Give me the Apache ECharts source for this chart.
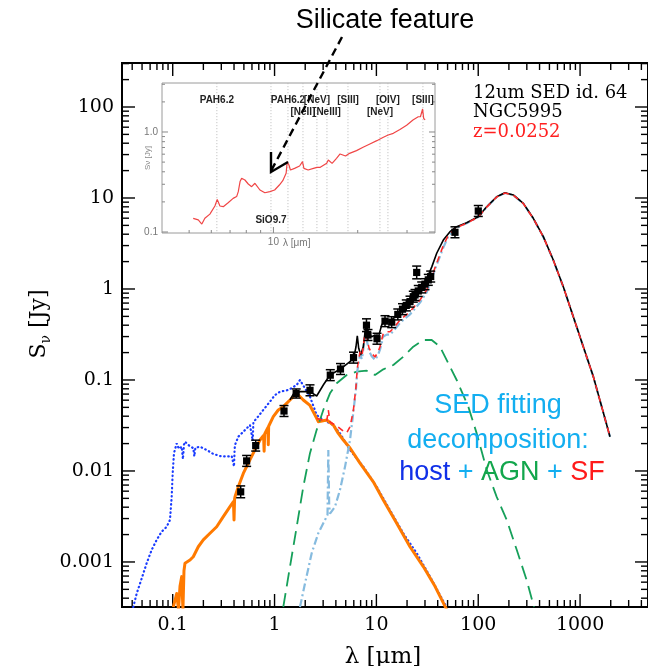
<!DOCTYPE html>
<html><head><meta charset="utf-8">
<script src="https://cdn.jsdelivr.net/npm/echarts@6.0.0/dist/echarts.min.js"></script>
<style>html,body{margin:0;padding:0;background:#fff}#c{width:648px;height:666px}</style>
</head><body><div id="c"></div>
<script>
// ---------- tick labels ----------
const xMajorTicks = [0.1, 1, 10, 100, 1000];
const xTickLabels = ['0.1', '1', '10', '100', '1000'];
const yMajorTicks = [0.001, 0.01, 0.1, 1, 10, 100];
const yTickLabels = ['0.001', '0.01', '0.1', '1', '10', '100'];
const insetXTicks = [10];
const insetXTickLabels = ['10'];
const insetYTicks = [0.1, 1];
const insetYTickLabels = ['0.1', '1.0'];

// ---------- photometric points (lambda [um], flux [Jy], error [dex]) ----------
const ptsLam  = [0.465,0.532,0.653,1.238,1.63,2.228,3.526,4.44,5.96,7.99,8.27,10.14,12.15,14.13,16.23,18.04,19.66,21.38,23.03,23.93,25.78,24.87,27.85,30.01,32.33,34.14,59.1,100.1];
const ptsFlux = [0.0059,0.0129,0.0190,0.0456,0.071,0.077,0.113,0.132,0.176,0.40,0.312,0.284,0.443,0.432,0.525,0.60,0.66,0.726,0.823,0.859,0.951,1.52,1.04,1.13,1.26,1.37,4.2,7.2];
const ptsErr  = [0.065,0.06,0.06,0.06,0.05,0.06,0.06,0.06,0.06,0.07,0.06,0.06,0.06,0.06,0.06,0.06,0.06,0.06,0.06,0.06,0.06,0.07,0.06,0.06,0.06,0.06,0.06,0.06];

// ---------- host (unattenuated, blue dotted) ----------
const hostLam  = [0.0410,0.0443,0.0496,0.0555,0.0622,0.0696,0.0779,0.0873,0.0940,0.0977,0.0999,0.1029,0.1094,0.1150,0.1225,0.1260,0.1290,0.1320,0.1422,0.1592,0.163,0.167,0.1853,0.2157,0.2503,0.2912,0.3389,0.3795,0.395,0.400,0.405,0.4089,0.4405,0.4932,0.5739,0.600,0.610,0.620,0.6677,0.7750,0.9020,1.010,1.131,1.364,1.650,1.777,1.990,2.228,2.593,3.010,3.774,4.391,5.506,7.435,10.07,13.60,18.37,24.87,33.60,45.4,49.0];
const hostFlux = [3.2e-4,4.5e-4,6.6e-4,9.7e-4,1.36e-3,1.75e-3,2.15e-3,2.44e-3,2.9e-3,5.2e-3,9.4e-3,0.0157,0.0201,0.0175,0.0185,0.0135,0.0195,0.0210,0.0193,0.0178,0.0145,0.0180,0.0185,0.0170,0.0154,0.0146,0.0144,0.0146,0.0140,0.0112,0.0170,0.0193,0.0238,0.0270,0.0320,0.0330,0.0215,0.0345,0.0379,0.0468,0.0578,0.0684,0.0744,0.0776,0.0881,0.100,0.081,0.0655,0.0412,0.0363,0.0320,0.0259,0.0170,0.01115,6.7e-3,3.7e-3,2.06e-3,1.25e-3,6.9e-4,3.7e-4,3.2e-4];

// ---------- attenuated host (orange) ----------
const attLam  = [0.1013,0.1094,0.1140,0.1179,0.1225,0.1260,0.1290,0.1320,0.1478,0.1592,0.1783,0.1996,0.2323,0.2703,0.3138,0.3651,0.395,0.400,0.405,0.4089,0.4405,0.4932,0.5522,0.6183,0.7194,0.780,0.790,0.800,0.8373,0.860,0.868,0.875,0.9719,1.088,1.218,1.418,1.650,1.915,2.228,2.593,2.689,3.251,3.774,4.226,4.732,5.506,6.902,9.324,11.69,15.83,21.37,28.88,37.62,49.0];
const attFlux = [3.2e-4,4.5e-4,3.0e-4,5.4e-4,6.9e-4,3.0e-4,8.0e-4,9.7e-4,1.05e-3,1.14e-3,1.47e-3,1.75e-3,2.07e-3,2.44e-3,3.15e-3,4.05e-3,4.6e-3,2.9e-3,4.9e-3,5.2e-3,6.7e-3,9.4e-3,0.0122,0.0157,0.0219,0.0245,0.0165,0.0255,0.0282,0.0300,0.0194,0.0310,0.0395,0.0468,0.0509,0.0603,0.0714,0.0603,0.0525,0.0379,0.0348,0.0363,0.0320,0.0259,0.0219,0.0179,0.0122,7.6e-3,4.8e-3,2.66e-3,1.47e-3,8.9e-4,5.4e-4,3.0e-4];

// ---------- AGN (green long dash) ----------
const agnLam  = [1.218,1.418,1.650,1.915,2.228,2.593,3.010,3.502,4.076,5.110,6.407,8.030,9.689,11.69,14.66,18.37,23.03,28.88,34.91,42.12,52.8,61.4,79.9,96.6,121.1,151.8,190.3,238.7,299.2,352.8];
const agnFlux = [3.2e-4,8.9e-4,2.44e-3,6.7e-3,0.0157,0.0283,0.0468,0.0714,0.092,0.1135,0.1234,0.1265,0.1135,0.131,0.146,0.180,0.232,0.275,0.275,0.232,0.140,0.100,0.0509,0.0259,0.0103,5.2e-3,2.9e-3,1.36e-3,6.3e-4,3.2e-4];

// ---------- SF template (light blue dash-dot) ----------
const sfTplLam  = [1.777,1.990,2.316,2.689,3.128,3.311,3.372,3.440,3.502,3.922,4.391,4.918,5.506,5.933,6.305,6.494,6.902,7.222,7.731,7.992,8.46,8.992,9.689,10.37,10.85,11.69,12.62,13.60,14.66,17.05,21.37,26.80,31.18,34.91,39.09,45.4,50.8,61.4,77.0,100.1,121.1,151.8,183.2,221.0,277.0,347.3,435.5,545.9,684.5,858.2,1076,1349,1631,1967];
const sfTplFlux = [3.2e-4,5.8e-4,1.25e-3,2.07e-3,2.9e-3,3.3e-3,0.0170,4.2e-3,3.4e-3,4.05e-3,6.2e-3,0.0111,0.0219,0.0440,0.080,0.125,0.188,0.170,0.300,0.285,0.208,0.182,0.166,0.188,0.215,0.300,0.315,0.315,0.345,0.425,0.525,0.71,0.92,1.30,1.85,2.85,3.8,4.72,5.28,6.18,7.95,10.25,11.35,10.75,8.7,5.95,3.74,2.07,1.055,0.494,0.231,0.1085,0.0507,0.0237];

// ---------- host + SF (red dashed) ----------
const sfLam  = [2.593,3.251,3.372,3.502,4.076,4.732,5.110,5.506,5.933,6.305,6.494,6.902,7.222,7.731,7.992,8.46,8.992,9.689,10.37,10.85,11.69,12.62,13.60,14.66,17.05,21.37,26.80,31.18,34.91,39.09,45.4,50.8,61.4,77.0,100.1,121.1,151.8,183.2,221.0,277.0,347.3,435.5,545.9,684.5,858.2,1076,1349,1631,1967];
const sfFlux = [0.0379,0.0350,0.0468,0.0345,0.0312,0.0275,0.0262,0.0305,0.0456,0.084,0.135,0.203,0.184,0.326,0.304,0.225,0.196,0.179,0.203,0.232,0.326,0.339,0.339,0.370,0.456,0.563,0.757,0.975,1.365,1.92,3.0,3.9,4.75,5.28,6.18,7.95,10.25,11.35,10.75,8.7,5.95,3.74,2.07,1.055,0.494,0.231,0.1085,0.0507,0.0237];

// ---------- total model (black) ----------
const totLam  = [1.418,1.528,1.777,2.228,2.593,3.010,3.502,4.391,5.506,6.026,6.305,6.494,6.703,7.012,7.435,7.906,8.328,8.992,9.689,10.44,11.27,12.15,13.60,15.83,19.84,24.87,26.8,30.0,32.6,35.0,39.1,45.4,52.8,61.4,77.0,100.1,121.1,151.8,183.2,221.0,277.0,347.3,435.5,545.9,684.5,858.2,1076,1349,1631,1967];
const totFlux = [0.0603,0.0700,0.0744,0.0744,0.0667,0.0881,0.1135,0.131,0.159,0.180,0.232,0.305,0.223,0.188,0.232,0.412,0.326,0.299,0.312,0.294,0.402,0.456,0.437,0.518,0.650,0.90,1.05,1.20,1.45,1.75,2.47,3.45,4.26,4.84,5.35,6.23,8.02,10.3,11.4,10.8,8.74,5.98,3.76,2.08,1.06,0.496,0.232,0.109,0.0509,0.0238];

// ---------- inset IRS spectrum ----------
const specLam  = [5.17,5.39,5.55,5.69,5.93,6.18,6.30,6.44,6.62,6.89,7.18,7.39,7.49,7.60,7.70,7.91,8.13,8.36,8.59,8.71,8.95,9.32,9.71,10.1,10.5,10.8,11.1,11.2,11.36,11.5,11.9,12.4,12.7,12.85,13.3,13.9,14.3,14.7,15.5,15.7,16.2,16.8,17.3,18.1,18.7,19.8,20.9,22.1,23.4,24.7,25.7,26.8,28.3,29.9,31.5,32.9,33.5,34.1,34.4,34.8];
const specFlux = [0.137,0.132,0.120,0.137,0.151,0.182,0.212,0.182,0.179,0.196,0.217,0.226,0.253,0.319,0.344,0.331,0.302,0.284,0.307,0.295,0.263,0.247,0.253,0.263,0.295,0.326,0.386,0.505,0.468,0.417,0.433,0.457,0.505,0.433,0.417,0.433,0.443,0.443,0.486,0.525,0.486,0.546,0.603,0.575,0.612,0.651,0.703,0.759,0.819,0.885,0.933,0.970,1.06,1.17,1.32,1.42,1.42,1.70,1.37,1.32];

// ---------- inset feature lines ----------
const featLam   = [6.28, 9.80, 11.27, 12.75, 14.30, 15.53, 18.46, 24.01, 25.64, 34.19];
const featNames = ['PAH6.2','SiO9.7','PAH6.2','[NeII]','[NeV]','[NeIII]','[SIII]','[NeV]','[OIV]','[SIII]'];
const featRow   = [0, 2, 0, 1, 0, 1, 0, 1, 0, 0];

// ---------- axis extents ----------
const xMin = 0.03177, xMax = 4645, yMin = 3.2e-4, yMax = 304.5;
const inXMin = 4.0, inXMax = 37.76, inYMin = 0.0977, inYMax = 3.09;

function zip(a, b) { return a.map((v, i) => [v, b[i]]); }
function labelFor(ticks, labels) {
  return function (v) {
    for (let i = 0; i < ticks.length; i++) {
      if (Math.abs(Math.log10(v) - Math.log10(ticks[i])) < 1e-6) return labels[i];
    }
    return '';
  };
}
function logTicks(lo, hi) {
  const out = [];
  for (let e = -5; e <= 5; e++) for (let k = 1; k <= 9; k++) {
    const v = k * Math.pow(10, e);
    if (v >= lo * 1.0001 && v <= hi * 0.9999) out.push([v, k === 1 ? 1 : 0]);
  }
  return out;
}
function tickData(xl, xh, yl, yh) {
  const d = [];
  logTicks(xl, xh).forEach(t => d.push([t[0], Math.sqrt(yl * yh), 0, t[1]]));
  logTicks(yl, yh).forEach(t => d.push([Math.sqrt(xl * xh), t[0], 1, t[1]]));
  return d;
}
function tickRenderer(majLen, minLen, color, lw, sides) {
  return function (params, api) {
    const cs = params.coordSys;
    const kind = api.value(2), maj = api.value(3);
    const L = maj ? majLen : minLen;
    const st = { stroke: color, lineWidth: lw };
    const ch = [];
    const p = api.coord([api.value(0), api.value(1)]);
    if (kind === 0) {
      const px = p[0];
      if (sides.bottom) ch.push({ type: 'line', shape: { x1: px, y1: cs.y + cs.height, x2: px, y2: cs.y + cs.height - L }, style: st });
      if (sides.top) ch.push({ type: 'line', shape: { x1: px, y1: cs.y, x2: px, y2: cs.y + L }, style: st });
    } else {
      const py = p[1];
      if (sides.left) ch.push({ type: 'line', shape: { x1: cs.x, y1: py, x2: cs.x + L, y2: py }, style: st });
      if (sides.right) ch.push({ type: 'line', shape: { x1: cs.x + cs.width, y1: py, x2: cs.x + cs.width - L, y2: py }, style: st });
    }
    return { type: 'group', children: ch };
  };
}

const chart = echarts.init(document.getElementById('c'), null, { renderer: 'canvas' });
const serifFont = 'DejaVu Serif';

const option = {
  animation: false,
  backgroundColor: '#fff',
  grid: [
    { left: 122, top: 63, width: 526, height: 544, show: true, borderColor: '#000', borderWidth: 2, backgroundColor: 'transparent', containLabel: false, outerBoundsMode: 'none' },
    { left: 162, top: 83, width: 273, height: 150, show: true, borderColor: '#9a9a9a', borderWidth: 1, backgroundColor: '#fff', containLabel: false, outerBoundsMode: 'none', z: 5 }
  ],
  xAxis: [
    { type: 'log', gridIndex: 0, min: xMin, max: xMax, logBase: 10,
      axisLine: { show: false }, axisTick: { show: false }, splitLine: { show: false },
      axisLabel: { formatter: labelFor(xMajorTicks, xTickLabels), fontFamily: serifFont, fontSize: 19, color: '#000', margin: 9, showMinLabel: false, showMaxLabel: false } },
    { type: 'log', gridIndex: 1, min: inXMin, max: inXMax, logBase: 10,
      axisLine: { show: false }, axisTick: { show: false }, splitLine: { show: false },
      axisLabel: { formatter: labelFor(insetXTicks, insetXTickLabels), fontFamily: 'Liberation Sans', fontSize: 10, color: '#777', margin: 4, showMinLabel: false, showMaxLabel: false } }
  ],
  yAxis: [
    { type: 'log', gridIndex: 0, min: yMin, max: yMax, logBase: 10,
      axisLine: { show: false }, axisTick: { show: false }, splitLine: { show: false },
      axisLabel: { formatter: labelFor(yMajorTicks, yTickLabels), fontFamily: serifFont, fontSize: 19, color: '#000', margin: 8, showMinLabel: false, showMaxLabel: false } },
    { type: 'log', gridIndex: 1, min: inYMin, max: inYMax, logBase: 10,
      axisLine: { show: false }, axisTick: { show: false }, splitLine: { show: false },
      axisLabel: { formatter: labelFor(insetYTicks, insetYTickLabels), fontFamily: 'Liberation Sans', fontSize: 10, color: '#777', margin: 4, showMinLabel: false, showMaxLabel: false } }
  ],
  series: [
    { type: 'custom', xAxisIndex: 0, yAxisIndex: 0, silent: true, z: 3,
      data: tickData(xMin, xMax, yMin, yMax),
      renderItem: tickRenderer(13, 7, '#000', 1.4, { top: true, bottom: true, left: true, right: true }) },
    { name: 'host', type: 'line', xAxisIndex: 0, yAxisIndex: 0, data: zip(hostLam, hostFlux), symbol: 'none', z: 4,
      lineStyle: { color: '#1a3cff', width: 2.2, type: [0.5, 3.6], cap: 'round' } },
    { name: 'host att', type: 'line', xAxisIndex: 0, yAxisIndex: 0, data: zip(attLam, attFlux), symbol: 'none', z: 4,
      lineStyle: { color: '#ff7a00', width: 3, join: 'round' } },
    { name: 'AGN', type: 'line', xAxisIndex: 0, yAxisIndex: 0, data: zip(agnLam, agnFlux), symbol: 'none', z: 4,
      lineStyle: { color: '#16a05a', width: 1.8, type: [14, 7] } },
    { name: 'SF tpl', type: 'line', xAxisIndex: 0, yAxisIndex: 0, data: zip(sfTplLam, sfTplFlux), symbol: 'none', z: 4,
      lineStyle: { color: '#86bbdf', width: 2.2, type: [8, 3, 2, 3] } },
    { name: 'total', type: 'line', xAxisIndex: 0, yAxisIndex: 0, data: zip(totLam, totFlux), symbol: 'none', z: 4,
      lineStyle: { color: '#000', width: 1.6 } },
    { name: 'SF', type: 'line', xAxisIndex: 0, yAxisIndex: 0, data: zip(sfLam, sfFlux), symbol: 'none', z: 4,
      lineStyle: { color: '#ff2a2a', width: 1.6, type: [6, 5] } },
    { name: 'points', type: 'custom', xAxisIndex: 0, yAxisIndex: 0, z: 6, silent: true,
      data: ptsLam.map((v, i) => [v, ptsFlux[i], ptsErr[i]]),
      renderItem: function (params, api) {
        const x = api.value(0), y = api.value(1), e = api.value(2);
        const c = api.coord([x, y]);
        const lo = api.coord([x, y / Math.pow(10, e)]);
        const hi = api.coord([x, y * Math.pow(10, e)]);
        const cw = 4.5, s = 3.6, st = { stroke: '#000', lineWidth: 1.5 };
        return { type: 'group', children: [
          { type: 'line', shape: { x1: c[0], y1: lo[1], x2: c[0], y2: hi[1] }, style: st },
          { type: 'line', shape: { x1: c[0] - cw, y1: lo[1], x2: c[0] + cw, y2: lo[1] }, style: st },
          { type: 'line', shape: { x1: c[0] - cw, y1: hi[1], x2: c[0] + cw, y2: hi[1] }, style: st },
          { type: 'rect', shape: { x: c[0] - s, y: c[1] - s, width: 2 * s, height: 2 * s }, style: { fill: '#000' } }
        ] };
      } },
    // inset
    { type: 'custom', xAxisIndex: 1, yAxisIndex: 1, silent: true, z: 10,
      data: tickData(inXMin, inXMax, inYMin, inYMax),
      renderItem: tickRenderer(6, 3, '#888', 1, { top: false, bottom: true, left: true, right: true }) },
    { type: 'custom', xAxisIndex: 1, yAxisIndex: 1, silent: true, z: 10,
      data: featLam.map((v, i) => [v, 1, featRow[i], i]),
      renderItem: function (params, api) {
        const cs = params.coordSys;
        const px = api.coord([api.value(0), api.value(1)])[0];
        const row = api.value(2), idx = api.value(3);
        const ty = row === 0 ? cs.y + 17 : (row === 1 ? cs.y + 29 : cs.y + 137);
        return { type: 'group', children: [
          { type: 'line', shape: { x1: px, y1: cs.y, x2: px, y2: cs.y + cs.height }, style: { stroke: '#b8b8b8', lineWidth: 0.8, lineDash: [1.2, 1.8] } },
          { type: 'text', x: px, y: ty, style: { text: featNames[idx], fill: '#222', font: 'bold 10px "Liberation Sans"', align: 'center', verticalAlign: 'middle' } }
        ] };
      } },
    { name: 'IRS', type: 'line', xAxisIndex: 1, yAxisIndex: 1, data: zip(specLam, specFlux), symbol: 'none', z: 11,
      lineStyle: { color: '#f04646', width: 1.2 } }
  ],
  graphic: [
    { type: 'text', x: 385, y: 21, z: 100, style: { text: 'Silicate feature', fill: '#000', font: '27px "Liberation Sans"', align: 'center', verticalAlign: 'middle' } },
    { type: 'line', z: 100, shape: { x1: 342, y1: 37, x2: 271, y2: 171 }, style: { stroke: '#000', lineWidth: 2.4, lineDash: [8, 5] } },
    { type: 'polyline', z: 100, shape: { points: [[271, 152], [271, 172], [288, 162]] }, style: { stroke: '#000', lineWidth: 2.4, fill: null } },
    { type: 'text', x: 473, y: 93, z: 100, style: { text: '12um SED id. 64', fill: '#000', font: '18px "DejaVu Serif"', align: 'left', verticalAlign: 'middle' } },
    { type: 'text', x: 473, y: 112, z: 100, style: { text: 'NGC5995', fill: '#000', font: '18px "DejaVu Serif"', align: 'left', verticalAlign: 'middle' } },
    { type: 'text', x: 473, y: 132, z: 100, style: { text: 'z=0.0252', fill: '#ff2020', font: '18px "DejaVu Serif"', align: 'left', verticalAlign: 'middle' } },
    { type: 'text', x: 498, y: 406, z: 100, style: { text: 'SED fitting', fill: '#13aef0', font: '27px "Liberation Sans"', align: 'center', verticalAlign: 'middle' } },
    { type: 'text', x: 498, y: 441, z: 100, style: { text: 'decomposition:', fill: '#13aef0', font: '27px "Liberation Sans"', align: 'center', verticalAlign: 'middle' } },
    { type: 'text', x: 502, y: 473, z: 100, style: {
        text: '{h|host}{p| + }{a|AGN}{p| + }{s|SF}', align: 'center', verticalAlign: 'middle', font: '27px "Liberation Sans"',
        rich: {
          h: { fill: '#1030e8', fontSize: 27, fontFamily: 'Liberation Sans' },
          p: { fill: '#13aef0', fontSize: 27, fontFamily: 'Liberation Sans' },
          a: { fill: '#12a64c', fontSize: 27, fontFamily: 'Liberation Sans' },
          s: { fill: '#ff1a1a', fontSize: 27, fontFamily: 'Liberation Sans' }
        } } },
    { type: 'text', x: 383, y: 657, z: 100, style: { text: 'λ [μm]', fill: '#000', font: '23px "DejaVu Serif"', align: 'center', verticalAlign: 'middle' } },
    { type: 'text', x: 40, y: 324, z: 100, rotation: Math.PI / 2, style: {
        text: '{s|S}{n|ν}{s| [Jy]}', align: 'center', verticalAlign: 'middle',
        rich: {
          s: { fill: '#000', fontSize: 22, fontFamily: 'DejaVu Serif', lineHeight: 24, verticalAlign: 'top' },
          n: { fill: '#000', fontSize: 14, fontFamily: 'DejaVu Serif', lineHeight: 14, padding: [11, 0, 0, 0], verticalAlign: 'top' }
        } } },
    { type: 'text', x: 283, y: 243, z: 100, style: { text: 'λ [μm]', fill: '#777', font: '10px "Liberation Sans"', align: 'left', verticalAlign: 'middle' } },
    { type: 'text', x: 148, y: 158, z: 100, rotation: Math.PI / 2, style: { text: 'Sν [Jy]', fill: '#888', font: '8px "Liberation Sans"', align: 'center', verticalAlign: 'middle' } }
  ]
};
chart.setOption(option);
</script>
</body></html>
